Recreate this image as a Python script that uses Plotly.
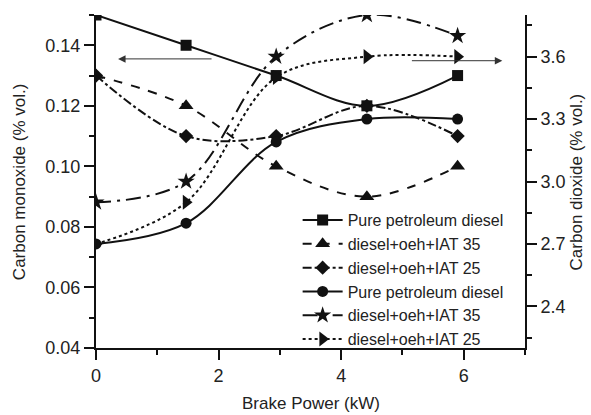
import plotly.graph_objects as go

power = [0, 1.47, 2.94, 4.42, 5.9]

# Carbon monoxide (% vol.) - left axis
co_pure = [0.15, 0.14, 0.13, 0.12, 0.13]
co_iat35 = [0.13, 0.12, 0.10, 0.09, 0.10]
co_iat25 = [0.13, 0.11, 0.11, 0.12, 0.11]

# Carbon dioxide (% vol.) - right axis
co2_pure = [2.7, 2.8, 3.19, 3.3, 3.3]
co2_iat35 = [2.9, 3.0, 3.6, 3.8, 3.7]
co2_iat25 = [2.7, 2.9, 3.5, 3.6, 3.6]

names = ["Pure petroleum diesel", "diesel+oeh+IAT 35", "diesel+oeh+IAT 25"]

FONT = "Arial, Liberation Sans, sans-serif"
BLACK = "#111111"
TXT = "#222222"

fig = go.Figure()

series = [
    (co_pure, names[0], "square", "solid", "y", 11),
    (co_iat35, names[1], "triangle-up", "dash", "y", 13),
    (co_iat25, names[2], "diamond", "dashdot", "y", 11),
    (co2_pure, names[0], "circle", "solid", "y2", 11),
    (co2_iat35, names[1], "star", "longdashdot", "y2", 13),
    (co2_iat25, names[2], "triangle-right", "dot", "y2", 13),
]

for vals, nm, sym, dash, yax, size in series:
    fig.add_trace(go.Scatter(
        x=power, y=vals, name=nm, yaxis=yax,
        mode="lines+markers",
        line=dict(color=BLACK, width=2, dash=dash, shape="spline", smoothing=1.0),
        marker=dict(symbol=sym, size=size, color=BLACK),
    ))

axis_common = dict(
    showline=True, linecolor=BLACK, linewidth=2,
    ticks="outside", ticklen=10, tickwidth=2, tickcolor=BLACK,
    showgrid=False, zeroline=False,
    tickfont=dict(family=FONT, size=18, color=TXT),
)

fig.update_layout(
    width=591, height=415,
    margin=dict(l=96, r=66, t=15, b=67),
    paper_bgcolor="white", plot_bgcolor="white",
    font=dict(family=FONT, color=TXT),
    showlegend=True,
    legend=dict(
        x=0.47, y=0.435, xanchor="left", yanchor="top",
        bgcolor="rgba(0,0,0,0)", borderwidth=0,
        font=dict(family=FONT, size=16, color=TXT),
        tracegroupgap=0, itemwidth=40,
    ),
    xaxis=dict(range=[0, 7], dtick=2, tick0=0,
               minor=dict(dtick=1, ticklen=5, tickwidth=2, tickcolor=BLACK, ticks="outside"),
               **axis_common),
    yaxis=dict(range=[0.04, 0.15], dtick=0.02, tick0=0.04, tickformat=".2f",
               minor=dict(dtick=0.01, ticklen=5, tickwidth=2, tickcolor=BLACK, ticks="outside"),
               **axis_common),
    yaxis2=dict(range=[2.2, 3.8], dtick=0.3, tick0=2.4, tickformat=".1f",
                overlaying="y", side="right",
                minor=dict(dtick=0.15, ticklen=5, tickwidth=2, tickcolor=BLACK, ticks="outside"),
                **axis_common),
)

# Axis titles
fig.add_annotation(text="Brake Power (kW)", xref="paper", yref="paper",
                   x=0.5, y=-0.168, yanchor="middle", showarrow=False,
                   font=dict(family=FONT, size=17, color=TXT))
fig.add_annotation(text="Carbon monoxide (% vol.)", xref="paper", yref="paper",
                   x=-0.178, y=0.5, textangle=-90, xanchor="center", showarrow=False,
                   font=dict(family=FONT, size=17, color=TXT))
fig.add_annotation(text="Carbon dioxide (% vol.)", xref="paper", yref="paper",
                   x=1.121, y=0.5, textangle=-90, xanchor="center", showarrow=False,
                   font=dict(family=FONT, size=17, color=TXT))

# Arrows indicating which axis the curves belong to
fig.add_annotation(x=0.36, y=0.1355, ax=1.91, ay=0.1355, xref="x", yref="y",
                   axref="x", ayref="y", showarrow=True, arrowhead=2,
                   arrowsize=1.5, arrowwidth=1, arrowcolor="#333333", text="")
fig.add_annotation(x=6.63, y=0.1349, ax=5.13, ay=0.1349, xref="x", yref="y",
                   axref="x", ayref="y", showarrow=True, arrowhead=2,
                   arrowsize=1.5, arrowwidth=1, arrowcolor="#333333", text="")

fig.write_html("out.html")
